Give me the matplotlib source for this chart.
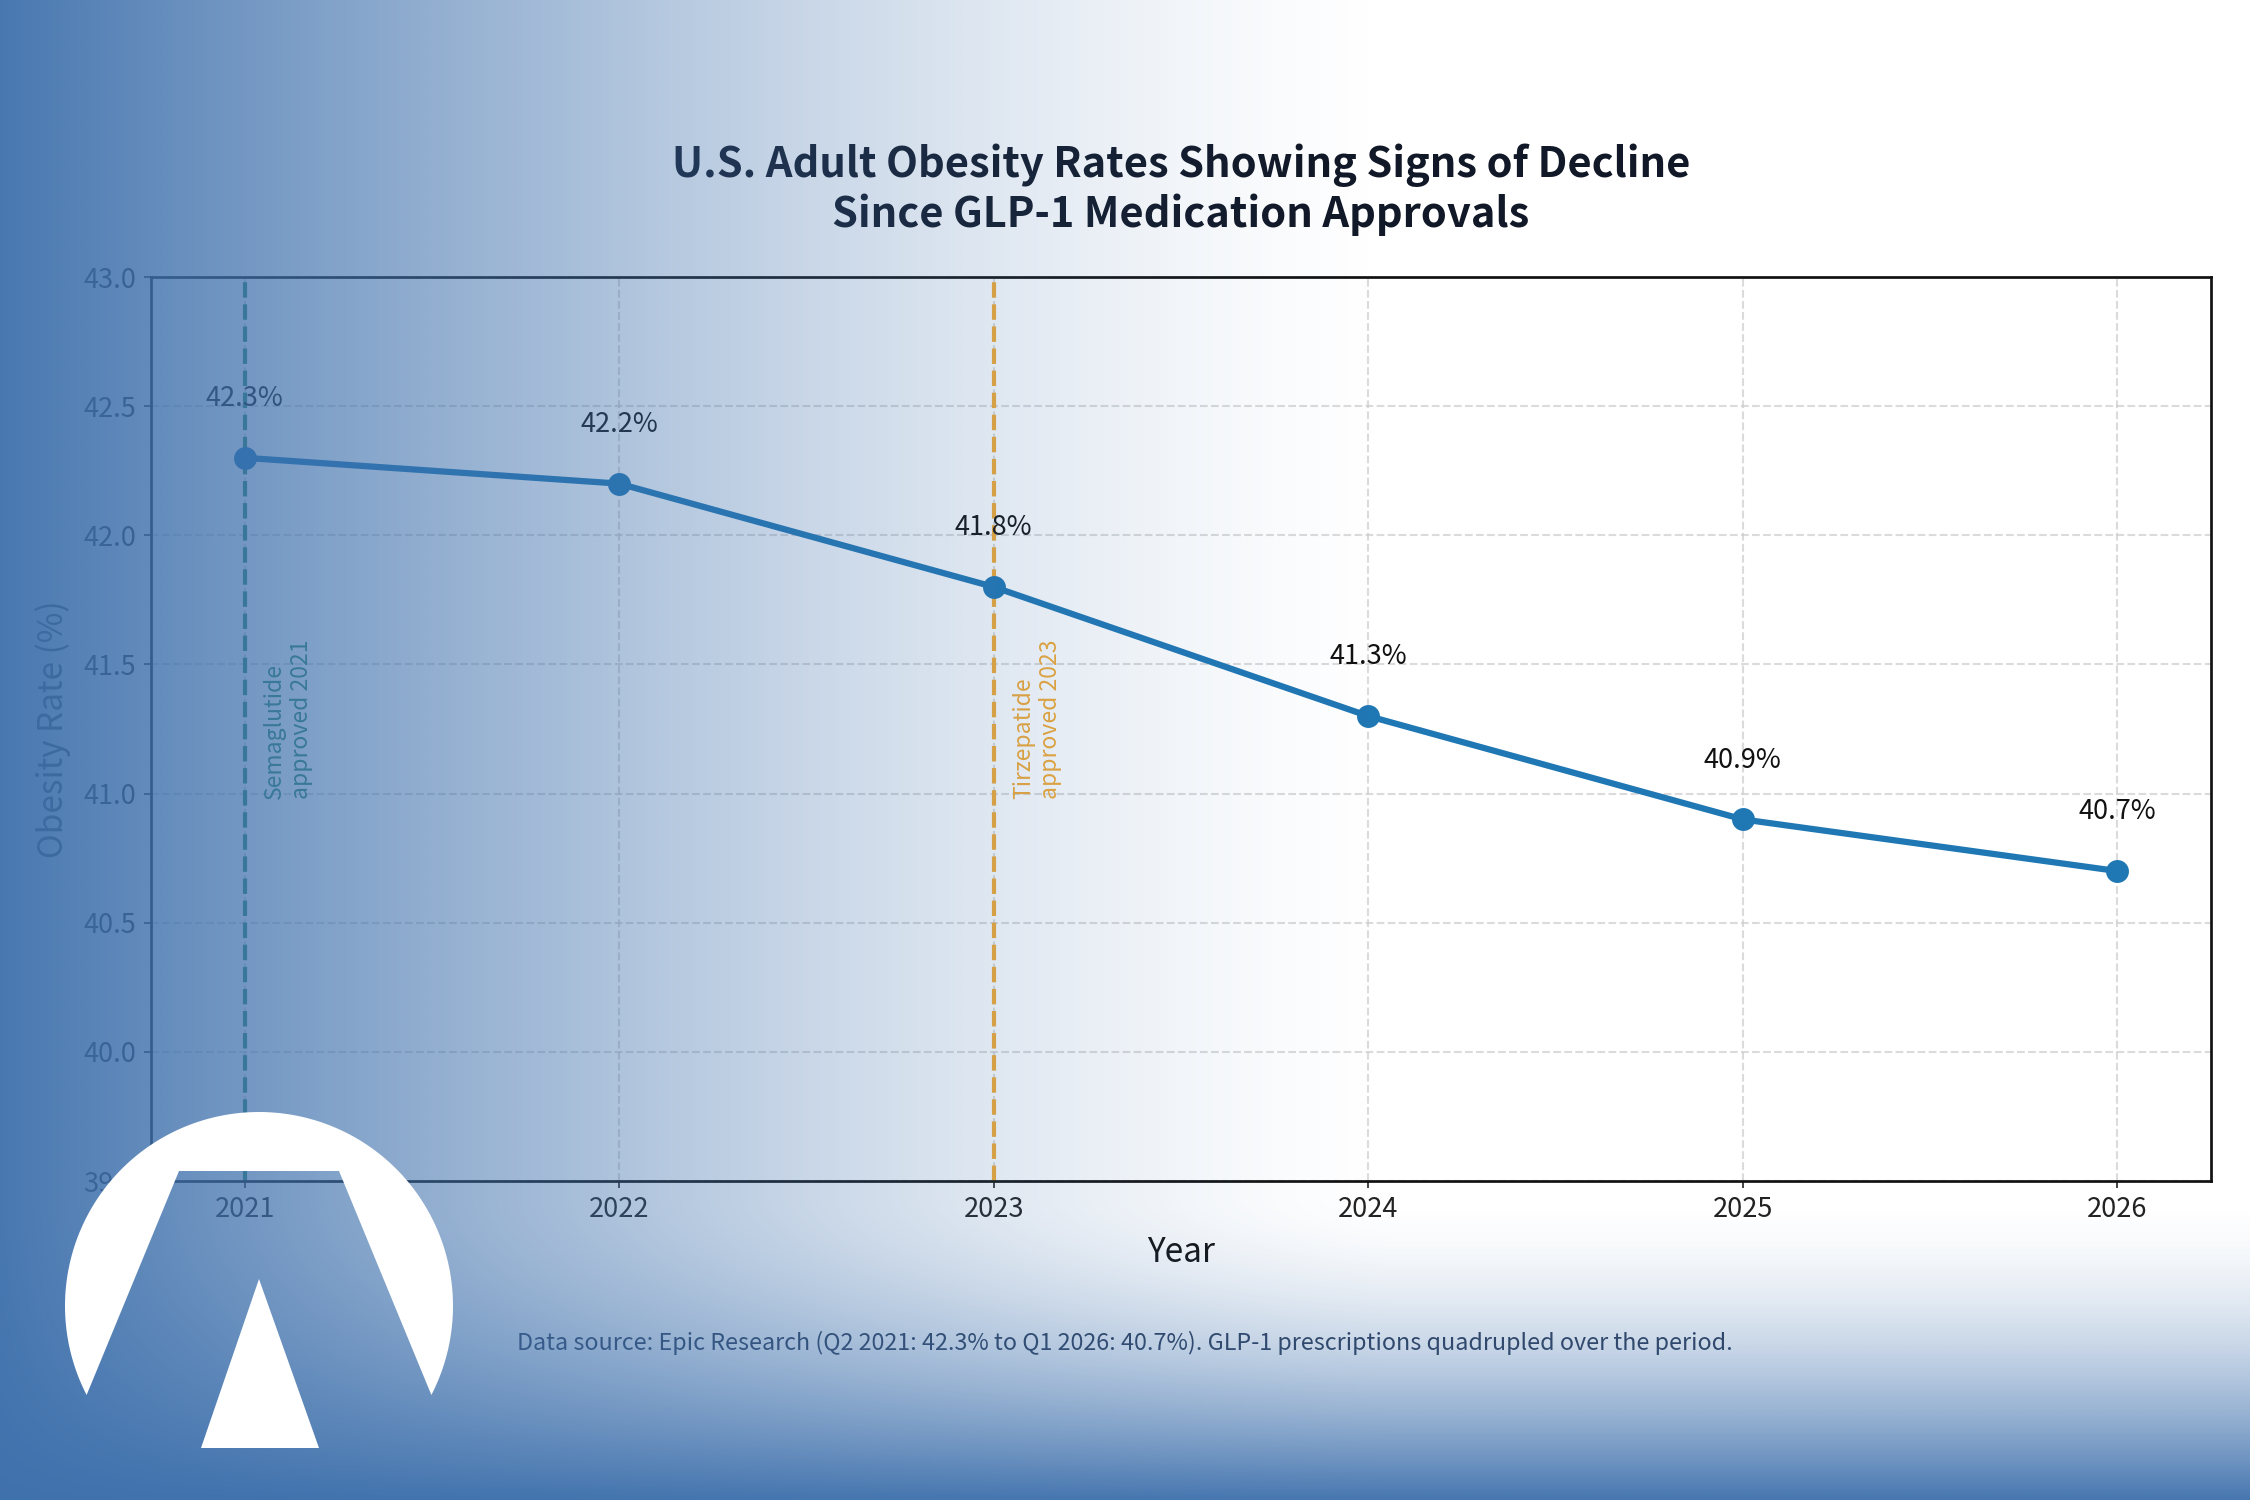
import numpy as np
import matplotlib
matplotlib.use("Agg")
import matplotlib.pyplot as plt
from matplotlib.patches import Polygon

plt.rcParams['font.family'] = ['Noto Sans CJK SC', 'DejaVu Sans']

# data
years = [2021, 2022, 2023, 2024, 2025, 2026]
rates = [42.3, 42.2, 41.8, 41.3, 40.9, 40.7]
approval_years = [2021, 2023]
approval_labels = ["Semaglutide\napproved 2021", "Tirzepatide\napproved 2023"]
approval_colors = ["#2e8b6a", "#f3aa33"]
y_ticks = [39.5, 40.0, 40.5, 41.0, 41.5, 42.0, 42.5, 43.0]

title = "U.S. Adult Obesity Rates Showing Signs of Decline\nSince GLP-1 Medication Approvals"
source = ("Data source: Epic Research (Q2 2021: 42.3% to Q1 2026: 40.7%). "
          "GLP-1 prescriptions quadrupled over the period.")

W, H = 2250, 1500
fig = plt.figure(figsize=(15, 10), dpi=150)
fig.patch.set_facecolor("white")

ax = fig.add_axes([151 / W, 1 - 1181 / H, 2060 / W, 904 / H])
ax.plot(years, rates, color="#1f77b4", lw=3, marker="o", ms=10, zorder=3)
for x, y in zip(years, rates):
    ax.annotate(f"{y:.1f}%", (x, y), xytext=(0, 22), textcoords="offset points",
                ha="center", va="bottom", fontsize=13, color="#111111")

for x, lab, c in zip(approval_years, approval_labels, approval_colors):
    ax.axvline(x, color=c, ls="--", lw=2, zorder=2)
    ax.text(x + 0.05, 40.98, lab, rotation=90, ha="left", va="bottom",
            fontsize=11, color=c)

ax.set_ylim(39.5, 43.0)
ax.margins(x=0.05)
ax.set_xticks(years)
ax.set_yticks(y_ticks)
ax.yaxis.set_major_formatter("{x:.1f}")
ax.tick_params(labelsize=13, colors="#222222")
ax.grid(True, ls="--", color="#cccccc", alpha=0.7, lw=1)
for s in ax.spines.values():
    s.set_linewidth(1.3)
    s.set_color("#111111")
ax.set_xlabel("Year", fontsize=16, labelpad=6, color="#111111")
ax.set_ylabel("Obesity Rate (%)", fontsize=16, labelpad=6, color="#333333")
ax.set_title(title, fontsize=20, fontweight="bold", pad=24, color="#111827")

fig.text(0.5, 0.105, source, ha="center", va="center", fontsize=11.2, color="#2b3a55")

# blue wash over the left and bottom edges
ov = fig.add_axes([0, 0, 1, 1], zorder=10)
ov.set_xlim(0, W)
ov.set_ylim(H, 0)
ov.axis("off")
gx, gy = np.meshgrid(np.linspace(0, 1, 450), np.linspace(0, 1, 300))
a_h = 0.95 * np.clip(1 - gx / 0.62, 0, 1) ** 1.4
a_v = 0.95 * np.clip((gy - 0.8) / 0.2, 0, 1) ** 1.7
rgba = np.zeros((300, 450, 4))
rgba[..., 0] = 62 / 255
rgba[..., 1] = 112 / 255
rgba[..., 2] = 172 / 255
rgba[..., 3] = 1 - (1 - a_h) * (1 - a_v)
ov.imshow(rgba, extent=(0, W, H, 0), aspect="auto", interpolation="bilinear", zorder=0)

# logo
cx, cy, r = 259, 1306, 194
th = np.radians(np.linspace(152.7, 387.3, 200))
arc = np.column_stack([cx + r * np.cos(th), cy + r * np.sin(th)])
dome = np.vstack([arc, [[cx + 80, 1171], [cx - 80, 1171]]])
ov.add_patch(Polygon(dome, closed=True, facecolor="white", edgecolor="none", zorder=2))
ov.add_patch(Polygon([[259, 1279], [201, 1448], [319, 1448]], closed=True,
                     facecolor="white", edgecolor="none", zorder=2))

fig.savefig("out.png", dpi=150)
